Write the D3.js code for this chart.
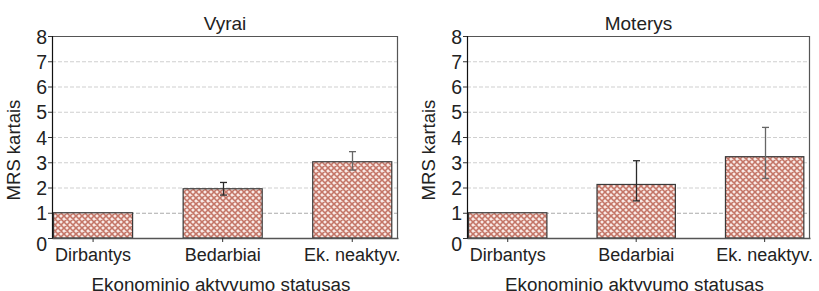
<!DOCTYPE html>
<html>
<head>
<meta charset="utf-8">
<script src="https://cdn.jsdelivr.net/npm/d3@7"></script>
<style>
  body { margin: 0; background: #fff; }
  svg text { font-family: "Liberation Sans", Arial, sans-serif; fill: #222; }
</style>
</head>
<body>
<script>
(function(){

  //chart data
  var categories = ["Dirbantys", "Bedarbiai", "Ek. neaktyv."];
  var yTicks = [0, 1, 2, 3, 4, 5, 6, 7, 8];
  var panelTitles = ["Vyrai", "Moterys"];

  var menValues = [1.0, 1.95, 3.02];
  var menLow = [null, 1.70, 2.69];
  var menHigh = [null, 2.20, 3.42];

  var womenValues = [1.0, 2.12, 3.22];
  var womenLow = [null, 1.47, 2.36];
  var womenHigh = [null, 3.06, 4.38];

  var yLabel = "MRS kartais";
  var xLabel = "Ekonominio aktyvumo statusas";

  var width = 819, height = 291;

  var svg = d3.select("body") //main svg
    .append("svg")
    .attr("width", width)
    .attr("height", height);

  //crosshatch fill for the bars
  var defs = svg.append("defs");
  var pat = defs.append("pattern")
    .attr("id", "hatch")
    .attr("patternUnits", "userSpaceOnUse")
    .attr("width", 6)
    .attr("height", 6);
  pat.append("rect")
    .attr("width", 6).attr("height", 6)
    .attr("fill", "#f3d9d3");
  pat.append("path")
    .attr("d", "M0,0L6,6M6,0L0,6M-1,5L1,7M5,-1L7,1M-1,1L1,-1M5,7L7,5")
    .attr("stroke", "#c37567")
    .attr("stroke-width", 1.5);
  pat.append("circle") //white spots between the hatches
    .attr("cx", 3).attr("cy", 0).attr("r", 0.8).attr("fill", "#fff");
  pat.append("circle")
    .attr("cx", 0).attr("cy", 3).attr("r", 0.8).attr("fill", "#fff");
  pat.append("circle")
    .attr("cx", 6).attr("cy", 3).attr("r", 0.8).attr("fill", "#fff");
  pat.append("circle")
    .attr("cx", 3).attr("cy", 6).attr("r", 0.8).attr("fill", "#fff");

  var panels = [
    {title: panelTitles[0], values: menValues, low: menLow, high: menHigh, left: 52, right: 398},
    {title: panelTitles[1], values: womenValues, low: womenLow, high: womenHigh, left: 467, right: 810}
  ];

  var errColors = ["#333", "#2a2a2a", "#666"];

  panels.forEach(function(p){
    drawPanel(p);
  });

  function drawPanel(p){
    var top = 36, bottom = 238;
    var w = p.right - p.left, h = bottom - top;

    var g = svg.append("g")
      .attr("transform", "translate(" + p.left + "," + top + ")");

    var x = d3.scaleBand()
      .domain(categories)
      .range([0, w])
      .paddingInner(0.39)
      .paddingOuter(0.03)
      .align(0.2);

    var y = d3.scaleLinear()
      .domain([0, 8])
      .range([h, 0]);

    //gridlines
    g.selectAll(".grid")
      .data(yTicks.filter(function(d){ return d > 0 && d < 8; }))
      .enter()
      .append("line")
      .attr("x1", 0).attr("x2", w)
      .attr("y1", function(d){ return y(d) + 0.5; })
      .attr("y2", function(d){ return y(d) + 0.5; })
      .attr("stroke", function(d){ return d == 1 ? "#aaa" : "#cfcfcf"; })
      .attr("stroke-dasharray", "4,2");

    //bars
    g.selectAll(".bar")
      .data(p.values)
      .enter()
      .append("rect")
      .attr("x", function(d, i){ return x(categories[i]); })
      .attr("width", x.bandwidth())
      .attr("y", function(d){ return y(d); })
      .attr("height", function(d){ return h - y(d); })
      .attr("fill", "url(#hatch)")
      .attr("stroke", "#3a3a3a")
      .attr("stroke-width", 1.2);

    //error bars
    var cap = 5;
    p.values.forEach(function(v, i){
      if (p.low[i] == null) return;
      var cx = Math.round(x(categories[i]) + x.bandwidth() / 2) + 0.5;
      var eg = g.append("g").attr("stroke", errColors[i]).attr("stroke-width", 1.3);
      eg.append("line")
        .attr("x1", cx).attr("x2", cx)
        .attr("y1", y(p.low[i])).attr("y2", y(p.high[i]));
      [p.low[i], p.high[i]].forEach(function(e){
        eg.append("line")
          .attr("x1", cx - cap / 2 - 1).attr("x2", cx + cap / 2 + 1)
          .attr("y1", y(e)).attr("y2", y(e));
      });
    });

    //frame: top and right
    g.append("path")
      .attr("d", "M0,0.5H" + (w - 0.5) + "V" + h)
      .attr("fill", "none")
      .attr("stroke", "#555")
      .attr("stroke-width", 1.2);

    //y axis
    var yAxis = d3.axisLeft(y)
      .tickValues(yTicks)
      .tickSize(4)
      .tickPadding(1)
      .tickFormat(d3.format("d"));
    var ya = g.append("g").call(yAxis);
    ya.select(".domain").attr("stroke", "#111").attr("stroke-width", 1.2);
    ya.selectAll(".tick line").attr("stroke", "#333");
    ya.selectAll(".tick text")
      .attr("font-size", 19.5)
      .attr("dy", "0.36em")
      .style("fill", "#222");
    ya.select(".tick:first-of-type text").attr("dy", "0.62em");

    //x axis
    var xAxis = d3.axisBottom(x)
      .tickSize(4)
      .tickSizeOuter(0)
      .tickPadding(6);
    var xa = g.append("g")
      .attr("transform", "translate(0," + h + ")")
      .call(xAxis);
    xa.select(".domain").attr("stroke", "#555").attr("stroke-width", 1.4);
    xa.selectAll(".tick line").attr("stroke", "#333");
    xa.selectAll(".tick text")
      .attr("font-size", 18)
      .style("fill", "#222");

    //title
    g.append("text")
      .attr("x", w / 2)
      .attr("y", -6)
      .attr("text-anchor", "middle")
      .attr("font-size", 19)
      .text(p.title);

    //axis labels
    g.append("text")
      .attr("transform", "translate(" + (-32) + "," + (h / 2 + 13) + ") rotate(-90)")
      .attr("text-anchor", "middle")
      .attr("font-size", 18.5)
      .text(yLabel);

    g.append("text")
      .attr("x", w / 2 - 4)
      .attr("y", h + 53)
      .attr("text-anchor", "middle")
      .attr("font-size", 18.8)
      .text(xLabel);
  }
})();
</script>
</body>
</html>
